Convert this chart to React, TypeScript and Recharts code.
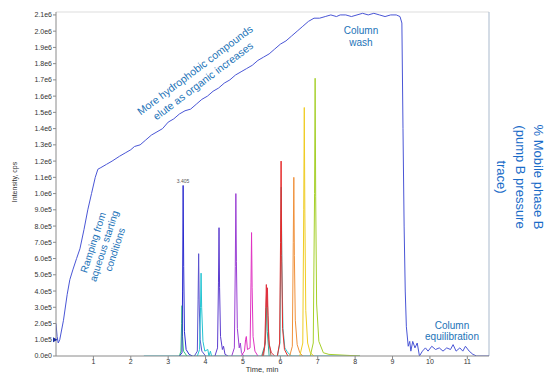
import React from "react";
import { LineChart, Line, XAxis, YAxis, ReferenceLine, ReferenceDot } from "recharts";

// Units: intensity in millions of cps (1.0 = 1.0e6)
const xTicks = [1, 2, 3, 4, 5, 6, 7, 8, 9, 10, 11];
const yTicks = [0, 0.1, 0.2, 0.3, 0.4, 0.5, 0.6, 0.7, 0.8, 0.9, 1.0, 1.1, 1.2, 1.3, 1.4, 1.5, 1.6, 1.7, 1.8, 1.9, 2.0, 2.1];
const yTickLabels = ["0.0e0", "1.0e5", "2.0e5", "3.0e5", "4.0e5", "5.0e5", "6.0e5", "7.0e5", "8.0e5", "9.0e5", "1.0e6", "1.1e6", "1.2e6", "1.3e6", "1.4e6", "1.5e6", "1.6e6", "1.7e6", "1.8e6", "1.9e6", "2.0e6", "2.1e6"];

type P = { t: number; v: number };
const pts = (a: number[][]): P[] => a.map(([t, v]) => ({ t, v }));

const pumpTrace = pts([
  [0.0, 0.2], [0.03, 0.12], [0.06, 0.08], [0.1, 0.1], [0.2, 0.22], [0.3, 0.38], [0.37, 0.47], [0.45, 0.53],
  [0.55, 0.6], [0.64, 0.66], [0.75, 0.78], [0.85, 0.9], [0.95, 1.0], [1.05, 1.1], [1.12, 1.15], [1.2, 1.16],
  [1.35, 1.18], [1.5, 1.2], [1.7, 1.23], [1.85, 1.25], [2.0, 1.27], [2.1, 1.29], [2.25, 1.3], [2.4, 1.33],
  [2.55, 1.36], [2.7, 1.38], [2.85, 1.4], [3.0, 1.44], [3.15, 1.46], [3.3, 1.49], [3.45, 1.51], [3.6, 1.52],
  [3.75, 1.55], [3.9, 1.58], [4.05, 1.6], [4.2, 1.63], [4.35, 1.65], [4.5, 1.68], [4.65, 1.7], [4.8, 1.73],
  [4.95, 1.75], [5.1, 1.77], [5.25, 1.79], [5.4, 1.82], [5.55, 1.84], [5.7, 1.86], [5.85, 1.89], [6.0, 1.92],
  [6.15, 1.94], [6.3, 1.97], [6.45, 2.0], [6.6, 2.03], [6.75, 2.06], [6.9, 2.08], [7.05, 2.08], [7.2, 2.09],
  [7.35, 2.1], [7.5, 2.09], [7.6, 2.1], [7.75, 2.1], [7.9, 2.09], [8.05, 2.1], [8.2, 2.11], [8.35, 2.1],
  [8.5, 2.11], [8.65, 2.1], [8.8, 2.09], [8.95, 2.1], [9.1, 2.1], [9.2, 2.09], [9.25, 2.05], [9.28, 1.4],
  [9.31, 0.8], [9.34, 0.4], [9.37, 0.18], [9.42, 0.06], [9.46, 0.09], [9.49, 0.03], [9.54, 0.09], [9.6, 0.05],
  [9.66, 0.08], [9.72, 0.0], [9.8, 0.03], [9.88, 0.05], [9.95, 0.03], [10.05, 0.06], [10.15, 0.04], [10.25, 0.05],
  [10.35, 0.03], [10.45, 0.05], [10.55, 0.04], [10.62, 0.07], [10.7, 0.03], [10.8, 0.05], [10.88, 0.03],
  [10.95, 0.06], [11.05, 0.03], [11.15, 0.01], [11.25, 0.0], [11.58, 0.0],
]);

const baseline = pts([[2.35, 0], [8.13, 0]]);
const greenA = pts([[3.3, 0], [3.34, 0.03], [3.36, 0.2], [3.37, 0.31], [3.385, 0.12], [3.41, 0.03], [3.5, 0]]);
const blueA = pts([[3.3, 0], [3.37, 0.02], [3.385, 0.4], [3.4, 1.05], [3.415, 0.55], [3.435, 0.15], [3.48, 0.04], [3.56, 0.01], [3.65, 0]]);
const indigoA = pts([[3.7, 0], [3.78, 0.03], [3.8, 0.35], [3.815, 0.63], [3.83, 0.32], [3.855, 0.1], [3.9, 0.03], [4.0, 0]]);
const cyanA = pts([[3.78, 0], [3.84, 0.04], [3.865, 0.3], [3.88, 0.51], [3.895, 0.3], [3.93, 0.09], [3.98, 0.03], [4.06, 0.04], [4.09, 0], [4.13, 0.03], [4.16, 0]]);
const purpleA = pts([[4.25, 0], [4.32, 0.05], [4.345, 0.45], [4.36, 0.79], [4.375, 0.42], [4.4, 0.12], [4.45, 0.04], [4.48, 0.06], [4.52, 0.01], [4.6, 0]]);
const violetA = pts([[4.7, 0], [4.77, 0.05], [4.795, 0.55], [4.81, 1.0], [4.825, 0.58], [4.85, 0.17], [4.9, 0.05], [4.93, 0.08], [4.96, 0.02], [5.02, 0]]);
const magentaA = pts([[4.95, 0], [5.04, 0.03], [5.07, 0.1], [5.09, 0.12], [5.12, 0.04], [5.19, 0.05], [5.215, 0.45], [5.23, 0.76], [5.245, 0.42], [5.27, 0.12], [5.32, 0.03], [5.4, 0]]);
const tealB = pts([[5.5, 0], [5.6, 0.08], [5.625, 0.3], [5.65, 0.15], [5.7, 0]]);
const brownB = pts([[5.55, 0], [5.6, 0.1], [5.63, 0.38], [5.66, 0.3], [5.69, 0.1], [5.75, 0]]);
const redA = pts([[5.52, 0], [5.58, 0.05], [5.61, 0.3], [5.625, 0.44], [5.64, 0.3], [5.655, 0.42], [5.67, 0.25], [5.7, 0.07], [5.76, 0.02], [5.85, 0]]);
const cyanB = pts([[5.92, 0], [5.99, 0.08], [6.01, 0.65], [6.025, 1.04], [6.04, 0.58], [6.07, 0.17], [6.12, 0.05], [6.2, 0.02], [6.3, 0]]);
const redB = pts([[5.92, 0], [5.98, 0.08], [6.005, 0.7], [6.02, 1.2], [6.035, 0.62], [6.06, 0.17], [6.11, 0.04], [6.2, 0]]);
const orangeA = pts([[6.25, 0], [6.32, 0.06], [6.345, 0.7], [6.36, 1.1], [6.375, 0.62], [6.4, 0.22], [6.45, 0.07], [6.52, 0.02], [6.6, 0]]);
const yellowA = pts([[6.52, 0], [6.6, 0.08], [6.625, 0.9], [6.64, 1.53], [6.655, 0.88], [6.68, 0.28], [6.73, 0.08], [6.8, 0.02], [6.9, 0]]);
const limeA = pts([[6.8, 0], [6.88, 0.08], [6.915, 1.0], [6.93, 1.71], [6.945, 0.98], [6.97, 0.32], [7.03, 0.09], [7.15, 0.02], [7.3, 0.01], [8.13, 0]]);

const peakSeries: { data: P[]; color: string }[] = [
  { data: baseline, color: "#2ab3c9" },
  { data: greenA, color: "#38c97c" },
  { data: blueA, color: "#2b2bcf" },
  { data: indigoA, color: "#5a52cf" },
  { data: cyanA, color: "#22c4d2" },
  { data: purpleA, color: "#5b3ccf" },
  { data: violetA, color: "#9a3fd4" },
  { data: magentaA, color: "#e032c2" },
  { data: tealB, color: "#2fb09e" },
  { data: brownB, color: "#a4644e" },
  { data: redA, color: "#e0303e" },
  { data: cyanB, color: "#2cc8c8" },
  { data: redB, color: "#e62a2a" },
  { data: orangeA, color: "#f0903a" },
  { data: yellowA, color: "#f0cc22" },
  { data: limeA, color: "#a6d02a" },
];

const ann = "#2273b8";
const font = "'Liberation Sans', Arial, sans-serif";

const Marker = (props: any) => {
  const { cx, cy } = props;
  if (cx == null || cy == null) return null;
  return <path d={`M${cx - 3},${cy - 2.5} L${cx + 1.5},${cy} L${cx - 3},${cy + 2.5} Z`} fill="#1b2a9c" />;
};

export default function App() {
  return (
    <div style={{ position: "absolute", left: 0, top: 0, width: 548, height: 376, background: "#fff", fontFamily: font }}>
      <LineChart width={548} height={376} margin={{ top: 12, right: 59, left: 0, bottom: 0 }}>
        <XAxis
          dataKey="t"
          type="number"
          domain={[0, 11.58]}
          ticks={xTicks}
          allowDataOverflow
          height={20}
          tickSize={3}
          tickMargin={0}
          stroke="#8a8a8a"
          tick={{ fontSize: 7, fill: "#333", fontFamily: font }}
          tickLine={{ stroke: "#8a8a8a" }}
        />
        <YAxis
          type="number"
          domain={[0, 2.118]}
          ticks={yTicks}
          allowDataOverflow
          width={56}
          tickSize={3}
          tickMargin={1}
          stroke="#8a8a8a"
          tickFormatter={(v: number, i: number) => yTickLabels[i]}
          tick={{ fontSize: 7, fill: "#333", fontFamily: font }}
          tickLine={{ stroke: "#8a8a8a" }}
        />
        <ReferenceLine y={2.118} stroke="#dddddd" strokeWidth={1} />
        <ReferenceLine x={11.58} stroke="#a9b9cc" strokeWidth={1} />
        {peakSeries.map((s, i) => (
          <Line
            key={i}
            data={s.data}
            dataKey="v"
            type="linear"
            stroke={s.color}
            strokeWidth={1}
            dot={false}
            isAnimationActive={false}
          />
        ))}
        <Line data={pumpTrace} dataKey="v" type="linear" stroke="#4a56d6" strokeWidth={1} dot={false} isAnimationActive={false} />
        <ReferenceDot x={0} y={0.1} ifOverflow="visible" shape={<Marker />} />
      </LineChart>
      <svg width={548} height={376} style={{ position: "absolute", left: 0, top: 0, pointerEvents: "none" }}>
        <text transform="translate(15,182) rotate(-90)" textAnchor="middle" fontSize={7} fill="#333" fontFamily={font} dy="0.35em">
          Intensity, cps
        </text>
        <text x={262} y={372} textAnchor="middle" fontSize={7.5} fill="#333" fontFamily={font}>
          Time, min
        </text>
        <text x={183} y={183} textAnchor="middle" fontSize={5} fill="#555" fontFamily={font}>
          3.405
        </text>
        <text transform="translate(104,246) rotate(-72)" textAnchor="middle" fontSize={10} fill={ann} fontFamily={font}>
          <tspan x={0} y={-8}>Ramping from</tspan>
          <tspan x={0} y={3.5}>aqueous starting</tspan>
          <tspan x={0} y={15}>conditions</tspan>
        </text>
        <text transform="translate(199,75.5) rotate(-37)" textAnchor="middle" fontSize={10.5} fill={ann} fontFamily={font}>
          <tspan x={0} y={-3}>More hydrophobic compounds</tspan>
          <tspan x={0} y={10.5}>elute as organic increases</tspan>
        </text>
        <text textAnchor="middle" fontSize={10} fill={ann} fontFamily={font}>
          <tspan x={361} y={34}>Column</tspan>
          <tspan x={361} y={45.5}>wash</tspan>
        </text>
        <text textAnchor="middle" fontSize={10} fill={ann} fontFamily={font}>
          <tspan x={452} y={329}>Column</tspan>
          <tspan x={452} y={340}>equilibration</tspan>
        </text>
        <text transform="translate(520,177) rotate(90)" textAnchor="middle" fontSize={13} fill="#1a6cc8" fontFamily={font}>
          <tspan x={0} y={-14}>% Mobile phase B</tspan>
          <tspan x={0} y={4.5}>(pump B pressure</tspan>
          <tspan x={0} y={23}>trace)</tspan>
        </text>
      </svg>
    </div>
  );
}
